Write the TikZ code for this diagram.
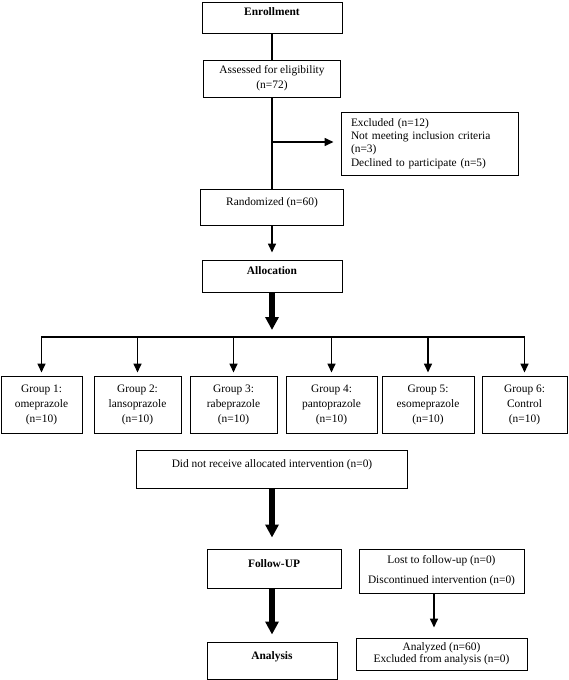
\documentclass[tikz,border=0pt]{standalone}
\usepackage{fontspec}
\setmainfont{Liberation Serif}
\usetikzlibrary{arrows.meta, positioning}
\tikzset{
    block/.style={rectangle, draw, line width=1pt, align=center, inner sep=0pt, font=\fontsize{11.4}{15}\selectfont},
    toptext/.style={text height=9pt, text depth=12pt},
    title/.style={block, toptext, font=\fontsize{11.4}{15}\selectfont\bfseries},
    group/.style={block, minimum height=57pt},
    line/.style={line width=1.6pt},
    arrow/.style={line width=1.6pt, -{Triangle[length=9pt, width=8pt]}},
    bigarrow/.style={line width=6pt, -{Triangle[length=13pt, width=13pt]}}
}

\begin{document}
\begin{tikzpicture}[x=1pt, y=-1pt]
    \useasboundingbox (0,0) rectangle (568,680);

    % Enrollment
    \node (Enrollment) [title, minimum width=140pt, minimum height=31pt] at (272,17.5) {Enrollment};
    \node (Assessed) [block, minimum width=137pt, minimum height=37pt] at (272,78.5) {Assessed for eligibility\\(n=72)};
    \node (Excluded) [block, align=left, text width=157pt, inner xsep=10pt, minimum height=63pt,
        font=\fontsize{11.4}{13.3}\selectfont] at (429.5,143.5)
        {Excluded (n=12)\\Not meeting inclusion criteria\\(n=3)\\Declined to participate (n=5)};
    \node (Randomized) [block, toptext, minimum width=143pt, minimum height=36pt] at (272,207) {Randomized (n=60)};

    \coordinate (Split) at (272,142);
    \draw[line] (Enrollment.south) -- (Enrollment.south |- Assessed.north);
    \draw[line] (Assessed.south) -- (Assessed.south |- Randomized.north);
    \draw[arrow, shorten >=7pt] (Split) -- (Split -| Excluded.west);

    % Allocation
    \node (Allocation) [title, minimum width=140pt, minimum height=32pt] at (272,276) {Allocation};
    \draw[arrow, shorten >=7pt] (Randomized.south) -- (Randomized.south |- Allocation.north);

    \node (G1) [group, minimum width=81pt] at (41.5,404.5) {Group 1:\\omeprazole\\(n=10)};
    \node (G2) [group, minimum width=87pt] at (137.5,404.5) {Group 2:\\lansoprazole\\(n=10)};
    \node (G3) [group, minimum width=87pt] at (233.5,404.5) {Group 3:\\rabeprazole\\(n=10)};
    \node (G4) [group, minimum width=91pt] at (331.5,404.5) {Group 4:\\pantoprazole\\(n=10)};
    \node (G5) [group, minimum width=92pt] at (428,404.5) {Group 5:\\esomeprazole\\(n=10)};
    \node (G6) [group, minimum width=85pt] at (524.5,404.5) {Group 6:\\Control\\(n=10)};

    \coordinate (Hub) at (272,337);
    \draw[bigarrow, shorten >=7pt] (Allocation.south) -- (Hub);
    \foreach \g in {1,...,6}
        \draw[arrow, shorten >=3pt] (Hub) -| (G\g.north);

    \node (NoIntervention) [block, toptext, minimum width=271pt, minimum height=38pt] at (272,469)
        {Did not receive allocated intervention (n=0)};

    % Follow-up and analysis
    \node (FollowUp) [title, minimum width=134pt, minimum height=39pt] at (274,568.5) {Follow-UP};
    \node (Analysis) [title, minimum width=130pt, minimum height=37pt] at (272,660.5) {Analysis};
    \node (Lost) [block, minimum width=165pt, minimum height=44pt, font=\fontsize{11.4}{20}\selectfont]
        at (441.5,571) {Lost to follow-up (n=0)\\Discontinued intervention (n=0)};
    \node (Analyzed) [block, minimum width=171pt, minimum height=32pt, font=\fontsize{11.4}{11.5}\selectfont]
        at (441.5,654) {Analyzed (n=60)\\Excluded from analysis (n=0)};

    \draw[bigarrow, shorten >=11pt] (NoIntervention.south) -- (NoIntervention.south |- FollowUp.north);
    \draw[bigarrow, shorten >=7pt] (NoIntervention.south |- FollowUp.south) -- (NoIntervention.south |- Analysis.north);
    \draw[arrow, shorten >=10pt] ([xshift=-7.5pt]Lost.south) -- ([xshift=-7.5pt]Lost.south |- Analyzed.north);

\end{tikzpicture}
\end{document}
